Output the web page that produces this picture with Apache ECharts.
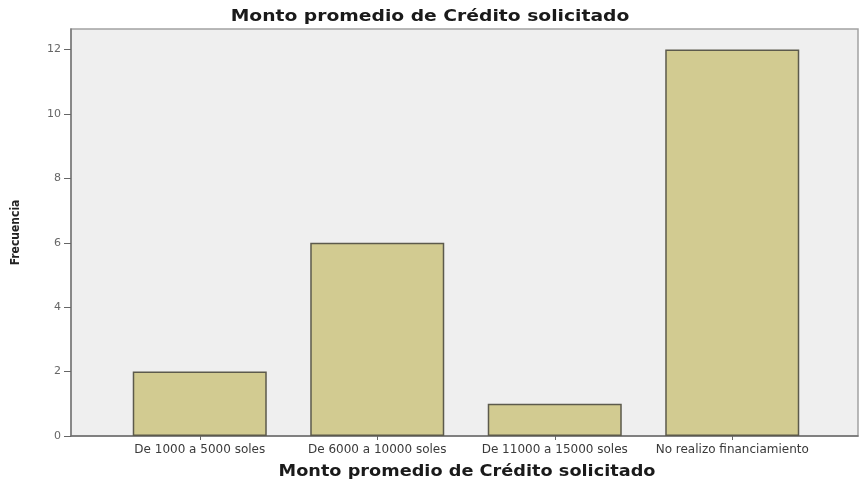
<!DOCTYPE html>
<html><head><meta charset="utf-8">
<script src="https://cdn.jsdelivr.net/npm/echarts@6/dist/echarts.min.js"></script>
<style>html,body{margin:0;padding:0;background:#fff}#c{width:860px;height:486px}</style>
</head><body><div id="c"></div>
<script>
const categories = ['De 1000 a 5000 soles', 'De 6000 a 10000 soles', 'De 11000 a 15000 soles', 'No realizo financiamiento'];
const frecuencia = [2, 6, 1, 12];
const yTicks = [0, 2, 4, 6, 8, 10, 12];
const titleText = 'Monto promedio de Crédito solicitado';
const xTitle = 'Monto promedio de Crédito solicitado';
const yTitle = 'Frecuencia';

const yMax = 12.64;
const chart = echarts.init(document.getElementById('c'));
chart.setOption({
  animation: false,
  backgroundColor: '#ffffff',
  graphic: [
    { type: 'text', x: 430, y: 17, scaleX: 1.17, silent: true,
      style: { text: titleText, align: 'center', verticalAlign: 'middle',
        font: 'bold 16px "DejaVu Sans"', fill: '#1a1a1a' } },
    { type: 'text', x: 467, y: 472, scaleX: 1.18, silent: true,
      style: { text: xTitle, align: 'center', verticalAlign: 'middle',
        font: 'bold 15px "DejaVu Sans"', fill: '#1a1a1a' } }
  ],
  grid: [
    { left: 71, right: 2, top: 29, bottom: 50, show: true, backgroundColor: '#efefef', borderColor: '#a3a3a3', borderWidth: 1.5 },
    { left: 111, right: 39, top: 29, bottom: 50 }
  ],
  xAxis: [
    { type: 'value', gridIndex: 0, min: 0, max: 1, show: true,
      axisLine: { show: true, lineStyle: { color: '#6e6e6e', width: 1.5 } },
      axisTick: { show: false }, axisLabel: { show: false }, splitLine: { show: false } },
    { type: 'category', gridIndex: 1, data: categories,
      axisLine: { show: false },
      axisTick: { show: true, alignWithLabel: true, length: 4, lineStyle: { color: '#666' } },
      axisLabel: { fontFamily: 'DejaVu Sans', fontSize: 12, color: '#3a3a3a', margin: 8, interval: 0 } }
  ],
  yAxis: [
    { type: 'value', gridIndex: 0, min: 0, max: yMax, interval: 2,
      axisLine: { show: true, lineStyle: { color: '#7a7a7a', width: 1.5 } },
      axisTick: { show: true, length: 7, lineStyle: { color: '#666' } },
      axisLabel: { showMaxLabel: false, fontFamily: 'DejaVu Sans', fontSize: 11, color: '#666', margin: 10,
        formatter: v => yTicks.includes(v) ? String(v) : '' },
      splitLine: { show: false },
      name: yTitle, nameLocation: 'middle', nameRotate: 90, nameGap: 49,
      nameTextStyle: { fontFamily: '"DejaVu Sans Condensed", "Liberation Sans", sans-serif', fontWeight: 'bold', fontSize: 12, color: '#222' } },
    { type: 'value', gridIndex: 1, min: 0, max: yMax, show: false }
  ],
  series: [{
    type: 'bar', xAxisIndex: 1, yAxisIndex: 1, data: frecuencia, barWidth: '75.5%',
    itemStyle: { color: '#d2cb91', borderColor: '#5c5a4c', borderWidth: 1.5 }
  }]
});
</script></body></html>
